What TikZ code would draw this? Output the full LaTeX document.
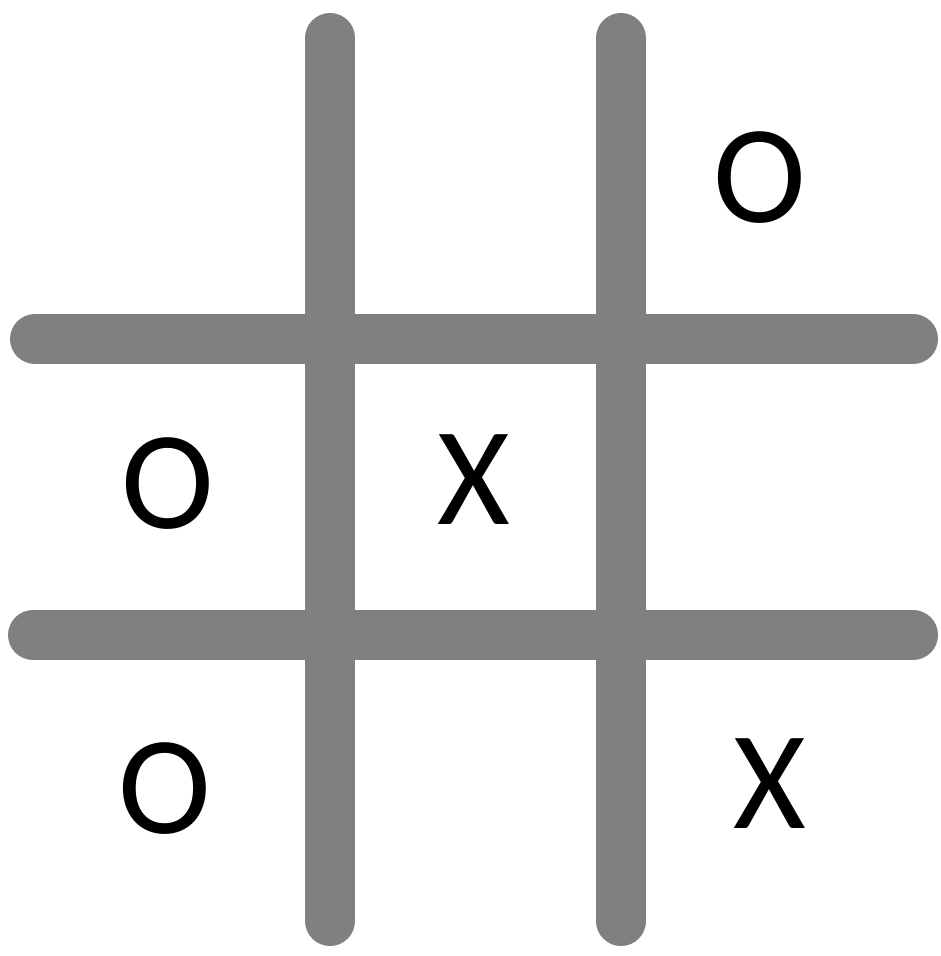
\documentclass[tikz,border=0pt]{standalone}
\usepackage{fontspec}
\setmainfont{Carlito}
\usetikzlibrary{positioning}

\begin{document}
\begin{tikzpicture}[
    x=0.5pt, y=-0.5pt,
    gridline/.style={line width=25pt, line cap=round, draw=black!50},
    piece/.style={inner sep=0pt, font=\fontsize{70}{84}\selectfont}
]
    \useasboundingbox (0,0) rectangle (940,956);
    % grid
    \draw[gridline] (330,38) -- (330,921);
    \draw[gridline] (621,38) -- (621,921);
    \draw[gridline] (35,339) -- (913,339);
    \draw[gridline] (33,635) -- (913,635);
    % pieces
    \node[piece] (topright) at (760,178) {O};
    \node[piece] (midleft) at (168,484) {O};
    \node[piece] (center) at (474,480) {X};
    \node[piece] (botleft) at (165,789) {O};
    \node[piece] (botright) at (770,784) {X};
\end{tikzpicture}
\end{document}
